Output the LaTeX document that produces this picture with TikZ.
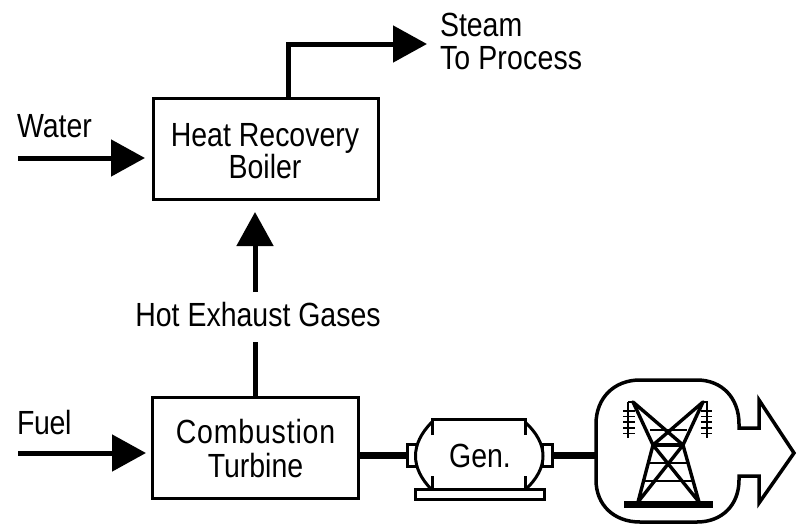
\documentclass[tikz,border=0pt]{standalone}
\usepackage{fontspec}
\setmainfont[FakeStretch=0.85]{Liberation Sans}
\usetikzlibrary{arrows.meta}
\tikzset{
  box/.style={draw,line width=3pt,minimum width=#1,minimum height=101pt,inner sep=0pt,outer sep=0pt},
  lbl/.style={inner sep=0pt,outer sep=0pt,anchor=base,font=\fontsize{33.5}{36}\selectfont},
  lblw/.style={lbl,anchor=base west},
  flow/.style={line width=5pt,-{Triangle[length=34pt,width=36pt]}},
  plain/.style={line width=3pt},
  shaft/.style={line width=7pt},
  stub/.style={draw,line width=3pt,fill=white,inner sep=0pt,outer sep=0pt},
  tw/.style={line width=2pt},
  twb/.style={line width=3.4pt,line cap=round}
}
\begin{document}
\begin{tikzpicture}[x=1pt,y=-1pt]
\useasboundingbox (0,0) rectangle (797,525);
% boxes
\node[box=225pt] (boiler) at (265.5,148.5) {};
\node[box=206pt] (turbine) at (255,448) {};
% labels
\node[lbl] (tHeat) at (265,146) {Heat Recovery};
\node[lbl] (tBoiler) at (265,178) {Boiler};
\node[lbl] (tComb) at (255.5,443) {\addfontfeatures{LetterSpace=2.5}Combustion};
\node[lbl] (tTurb) at (255.5,477) {Turbine};
\node[lbl] (tHot) at (258,326) {Hot Exhaust Gases};
\node[lblw] (tWater) at (17,137) {Water};
\node[lblw] (tFuel) at (17,434) {\addfontfeatures{LetterSpace=-1}Fuel};
\node[lblw] (tSteam) at (440,36) {Steam};
\node[lblw] (tProc) at (440,69) {\addfontfeatures{LetterSpace=0.5}To Process};
\node[lbl] (tGen) at (480,467) {Gen.};
% flows
\coordinate (wIn) at (18,158);
\coordinate (fIn) at (18,453);
\coordinate (hotUp) at (255,292);
\coordinate (hotDown) at (255,342);
\coordinate (stTop) at (288,98);
\coordinate (stOut) at (427,44);
\draw[flow] (wIn) -- (145,158);
\draw[flow] (fIn) -- (146,453);
\draw[line width=5pt] (255,397) -- (hotDown);
\draw[flow] (hotUp) -- (255,212);
\draw[flow] (stTop) |- (stOut);
% generator
\node[stub,minimum width=11pt,minimum height=22pt] (gl) at (412.5,455) {};
\node[stub,minimum width=10pt,minimum height=22pt] (gr) at (547,455) {};
\draw[plain,fill=white] (432,422) .. controls (410,444) and (410,468) .. (432,490);
\draw[plain,fill=white] (525,422) .. controls (549,444) and (549,468) .. (525,490);
\draw[plain] (432,435) -- (432,419) -- (525,419) -- (525,435);
\draw[plain] (432,476) -- (432,490) (525,476) -- (525,490);
\node[stub,minimum width=129pt,minimum height=10pt] (gbase) at (479.5,494) {};
\draw[shaft] (turbine.east |- gl.west) -- (gl.west);
\draw[shaft] (gr.east) -- (596,455);
% grid enclosure
\draw[line width=3.5pt,line join=miter]
  (739,428) -- (759,428) -- (759,400) -- (794,453) -- (759,503) -- (759,476) -- (739,476)
  -- (739,480) .. controls (739,505) and (722,522) .. (697,522)
  -- (640,522) .. controls (614,522) and (596,505) .. (596,480)
  -- (596,424) .. controls (596,398) and (614,380) .. (640,380)
  -- (697,380) .. controls (722,380) and (739,398) .. (739,424) -- cycle;
% tower
\coordinate (tA) at (633,402); \coordinate (tB) at (703,402);
\coordinate (tW) at (653,445); \coordinate (tE) at (683,445);
\coordinate (tF) at (638,502); \coordinate (tG) at (699,502);
\fill (624,501) rectangle (713,508);
\draw[tw] (628,402) -- (tA) (tB) -- (708,402);
\draw[twb] (tA) -- (tE) (tB) -- (tW) (tA) -- (tW) (tB) -- (tE);
\draw[twb] (tW) -- (tG) (tE) -- (tF) (tW) -- (tF) (tE) -- (tG);
\draw[twb] (tW) -- (tE);
\draw[tw] (650,430) -- (687,430) (650,463) -- (688,463) (645,481) -- (692,481);
% insulators
\draw[tw] (628,402) -- (628,438) (707,402) -- (707,438);
\foreach \yy in {411,416.6,422.2,427.8,433.4} {
  \draw[line width=1.6pt] (623,\yy) -- (635,\yy) (701,\yy) -- (712,\yy);
}
\end{tikzpicture}
\end{document}
